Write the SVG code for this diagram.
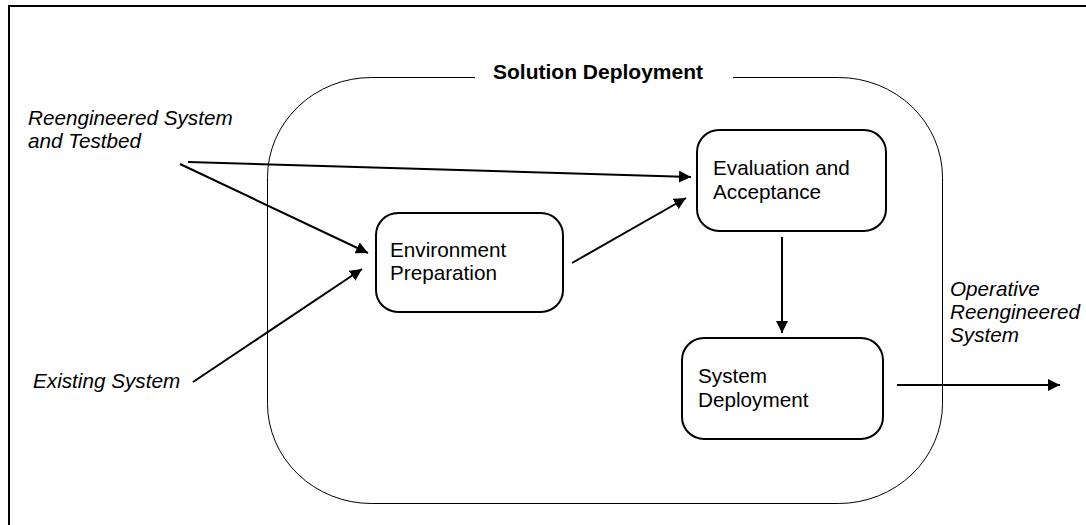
<svg xmlns="http://www.w3.org/2000/svg" width="1086" height="525" viewBox="0 0 1086 525">
<defs>
<marker id="ah" markerWidth="12" markerHeight="12" refX="12" refY="6" orient="auto" markerUnits="userSpaceOnUse">
<path d="M0,0 L12,6 L0,12 Z" fill="#000"/>
</marker>
<style>
.t{font-family:"Liberation Sans",Arial,sans-serif;font-size:20.7px;fill:#000}
.i{font-style:italic}
.b{font-weight:bold;font-size:21px}
.box{fill:#fff;stroke:#000;stroke-width:2}
.c{stroke:#000;stroke-width:2;fill:none;marker-end:url(#ah)}
</style>
</defs>
<rect width="1086" height="525" fill="#fff"/>
<rect x="9" y="6" width="1100" height="540" fill="none" stroke="#000" stroke-width="2"/>
<g id="solution-deployment">
<rect x="267.5" y="77.5" width="675" height="426" rx="104" ry="100" fill="none" stroke="#000" stroke-width="1"/>
<rect x="475" y="60" width="258" height="30" fill="#fff"/>
<text class="t b" x="493" y="79">Solution Deployment</text>
</g>
<g id="connectors">
<line class="c" x1="180" y1="164" x2="368" y2="253"/>
<line class="c" x1="188" y1="162" x2="691" y2="177"/>
<line class="c" x1="193" y1="382" x2="362" y2="269"/>
<line class="c" x1="572" y1="263" x2="686" y2="198"/>
<line class="c" x1="782" y1="237" x2="782" y2="333"/>
<line class="c" x1="897" y1="385" x2="1060" y2="385"/>
</g>
<g id="environment-preparation">
<rect class="box" x="376" y="213" width="187" height="99" rx="22"/>
<text class="t" x="390" y="257">Environment</text>
<text class="t" x="390" y="280">Preparation</text>
</g>
<g id="evaluation-acceptance">
<rect class="box" x="697" y="130" width="189" height="101" rx="22"/>
<text class="t" x="713" y="175">Evaluation and</text>
<text class="t" x="713" y="199">Acceptance</text>
</g>
<g id="system-deployment">
<rect class="box" x="682" y="338" width="201" height="101" rx="22"/>
<text class="t" x="698" y="383">System</text>
<text class="t" x="698" y="407">Deployment</text>
</g>
<g id="labels">
<text class="t i" x="28" y="125">Reengineered System</text>
<text class="t i" x="28" y="148">and Testbed</text>
<text class="t i" x="33" y="388">Existing System</text>
<text class="t i" x="950" y="296">Operative</text>
<text class="t i" x="950" y="319">Reengineered</text>
<text class="t i" x="950" y="342">System</text>
</g>
</svg>
